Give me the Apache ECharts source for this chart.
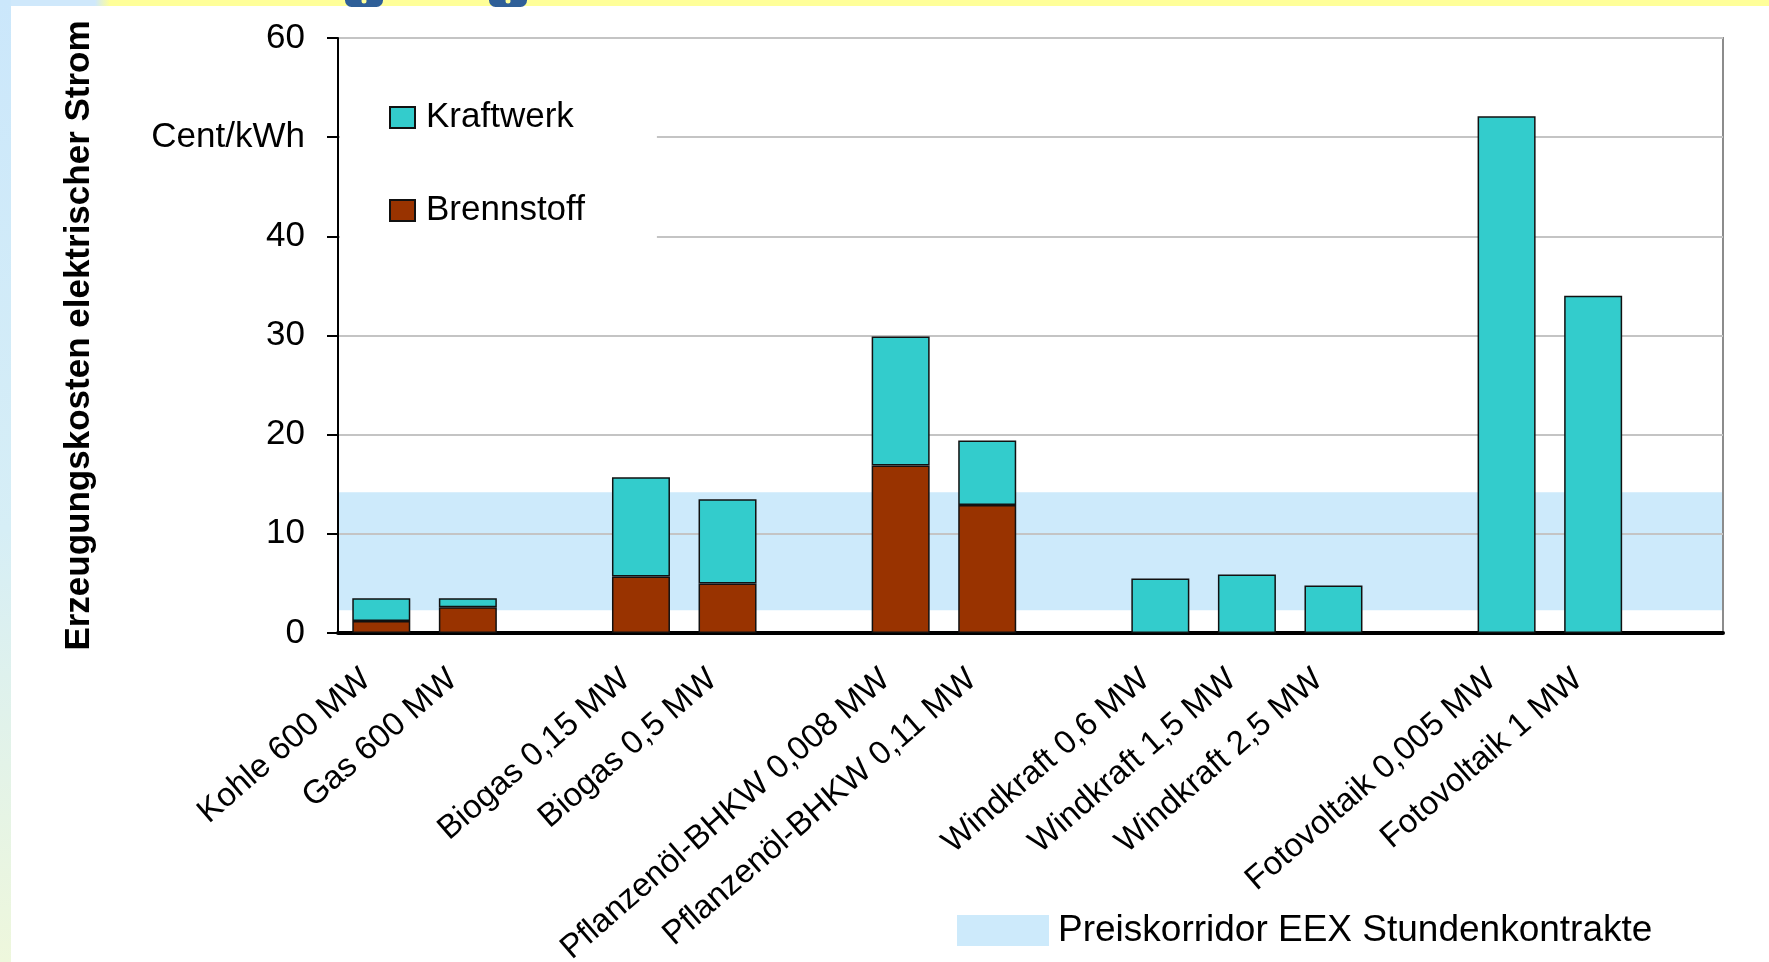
<!DOCTYPE html>
<html>
<head>
<meta charset="utf-8">
<title>Erzeugungskosten elektrischer Strom</title>
<script src="https://cdn.jsdelivr.net/npm/echarts@6/dist/echarts.min.js"></script>
<style>
  html, body { margin: 0; padding: 0; width: 1769px; height: 962px; overflow: hidden; }
  body { background: #ffffff; position: relative; }
  /* slide frame: yellow strip on top, light blue strip on the left */
  #frameTop { position: absolute; left: 0; top: 0; width: 1769px; height: 6px;
    background: linear-gradient(90deg, #cfe8fb 0px, #cfe8fb 95px, #ffff99 110px, #ffff99 100%); }
  #frameLeft { position: absolute; left: 0; top: 0; width: 11px; height: 962px;
    background: linear-gradient(180deg, #cbe7fb 0%, #d6eef6 55%, #eef7dc 100%); }
  #chart { position: absolute; left: 0; top: 0; width: 1769px; height: 962px; }
</style>
</head>
<body>
<div id="frameTop"></div>
<div id="frameLeft"></div>
<div id="chart"></div>
<script>
// Plant types; empty slots separate the groups on the axis
const categories = [
  'Kohle 600 MW', 'Gas 600 MW', ' ',
  'Biogas 0,15 MW', 'Biogas 0,5 MW', '  ',
  'Pflanzenöl-BHKW 0,008 MW', 'Pflanzenöl-BHKW 0,11 MW', '   ',
  'Windkraft 0,6 MW', 'Windkraft 1,5 MW', 'Windkraft 2,5 MW', '    ',
  'Fotovoltaik 0,005 MW', 'Fotovoltaik 1 MW', '     '
];

// Cent/kWh, fuel share (bottom of each stack)
const brennstoff = [1.2, 2.6, '-', 5.7, 5.0, '-', 16.9, 12.9, '-', '-', '-', '-', '-', '-', '-', '-'];
// Cent/kWh, plant share (top of each stack)
const kraftwerk = [2.3, 0.9, '-', 10.0, 8.5, '-', 13.0, 6.5, '-', 5.5, 5.9, 4.8, '-', 52.1, 34.0, '-'];

// EEX hourly contract price corridor, Cent/kWh
const preiskorridor = [2.3, 14.2];

// y-axis ticks; the 50 slot carries the unit
const yTicks = { min: 0, max: 60, interval: 10, unitAt: 50, unit: 'Cent/kWh' };

const FONT = '"Liberation Sans", Arial, sans-serif';
const CYAN = '#33cccc';
const BROWN = '#993300';
const BAND = '#cdeafb';

const chart = echarts.init(document.getElementById('chart'), null, { renderer: 'canvas' });

chart.setOption({
  backgroundColor: 'transparent',
  animation: false,
  textStyle: { fontFamily: FONT, color: '#000' },
  grid: {
    left: 338, right: 46, top: 38, bottom: 329,
    containLabel: false,
    outerBoundsMode: 'none',
    show: true, backgroundColor: 'transparent',
    borderColor: '#8c8c8c', borderWidth: 2
  },
  graphic: [
    { type: 'rect', left: 11, top: 6, shape: { width: 1758, height: 956 }, style: { fill: '#fff' }, z: -10, silent: true },
    { type: 'rect', shape: { x: 345, y: -6, width: 38, height: 13, r: 12 }, style: { fill: '#2f5f98' }, z: 10, silent: true },
    { type: 'circle', shape: { cx: 364, cy: 1, r: 2.5 }, style: { fill: '#ffff99' }, z: 11, silent: true },
    { type: 'rect', shape: { x: 489, y: -6, width: 38, height: 13, r: 12 }, style: { fill: '#2f5f98' }, z: 10, silent: true },
    { type: 'circle', shape: { cx: 508, cy: 1, r: 2.5 }, style: { fill: '#ffff99' }, z: 11, silent: true }
  ],
  legend: [
    {
      data: ['Kraftwerk', 'Brennstoff'],
      orient: 'vertical',
      icon: 'rect',
      left: 340, top: 70,
      padding: [30, 72, 30, 49],
      itemGap: 58,
      itemWidth: 25, itemHeight: 21,
      backgroundColor: '#fff',
      textStyle: { fontFamily: FONT, fontSize: 35, color: '#000', padding: [0, 0, 0, 6] },
      selectedMode: false
    },
    {
      data: [{ name: 'Preiskorridor EEX Stundenkontrakte', icon: 'rect', itemStyle: { borderWidth: 0 } }],
      left: 957, top: 912,
      padding: 0,
      itemWidth: 92, itemHeight: 31,
      textStyle: { fontFamily: FONT, fontSize: 37, color: '#000', padding: [0, 0, 0, 4] },
      selectedMode: false
    }
  ],
  xAxis: {
    type: 'category',
    data: categories,
    axisLine: { show: true, onZero: false, lineStyle: { color: '#000', width: 4 } },
    axisTick: { show: false },
    axisLabel: {
      interval: 0, rotate: 41, margin: 29,
      padding: [0, 20, 0, 0],
      fontFamily: FONT, fontSize: 33, color: '#000'
    },
    splitLine: { show: false }
  },
  yAxis: {
    type: 'value',
    min: yTicks.min, max: yTicks.max, interval: yTicks.interval,
    name: 'Erzeugungskosten elektrischer Strom',
    nameLocation: 'middle', nameRotate: 90, nameGap: 241,
    nameTextStyle: { fontFamily: FONT, fontSize: 35, fontWeight: 'bold', color: '#000' },
    axisLine: { show: true, lineStyle: { color: '#000', width: 2 } },
    axisTick: { show: true, inside: false, length: 11, lineStyle: { color: '#000', width: 2 } },
    axisLabel: {
      margin: 33, fontFamily: FONT, fontSize: 35, color: '#000',
      formatter: v => (v === yTicks.unitAt ? yTicks.unit : String(v))
    },
    splitLine: { show: true, lineStyle: { color: '#c4c4c4', width: 2 } }
  },
  series: [
    {
      name: 'Brennstoff',
      type: 'bar',
      stack: 'kosten',
      data: brennstoff,
      barWidth: '67%',
      itemStyle: { color: BROWN, borderColor: '#111', borderWidth: 1.5 },
      z: 3
    },
    {
      name: 'Kraftwerk',
      type: 'bar',
      stack: 'kosten',
      data: kraftwerk,
      barWidth: '67%',
      itemStyle: { color: CYAN, borderColor: '#111', borderWidth: 1.5 },
      z: 3
    },
    {
      name: 'Preiskorridor EEX Stundenkontrakte',
      type: 'line',
      data: [],
      itemStyle: { color: BAND },
      lineStyle: { color: BAND },
      markArea: {
        silent: true,
        z: -1,
        itemStyle: { color: BAND },
        data: [[{ yAxis: preiskorridor[0] }, { yAxis: preiskorridor[1] }]]
      }
    }
  ]
});
</script>
</body>
</html>
